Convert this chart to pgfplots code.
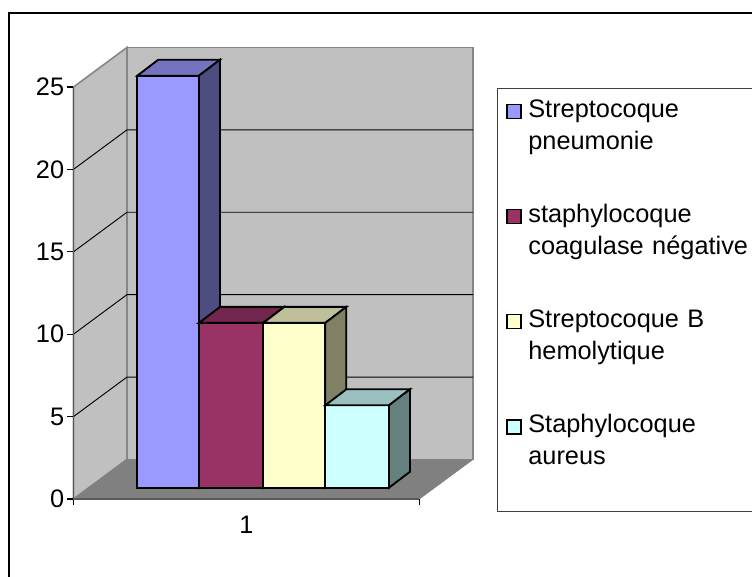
\documentclass[border=0pt]{standalone}
\usepackage{fontspec}
\setmainfont{Liberation Sans}
\usepackage{pgfplots}
\pgfplotsset{compat=1.18}

\definecolor{wall}{HTML}{C0C0C0}
\definecolor{floorc}{HTML}{808080}
\definecolor{edgec}{HTML}{868686}
\definecolor{blueF}{HTML}{9999FF}
\definecolor{blueT}{HTML}{7373BF}
\definecolor{blueS}{HTML}{4D4D80}
\definecolor{redF}{HTML}{993366}
\definecolor{redT}{HTML}{73264D}
\definecolor{redS}{HTML}{4D1A33}
\definecolor{yelF}{HTML}{FFFFCC}
\definecolor{yelT}{HTML}{BFBF99}
\definecolor{yelS}{HTML}{808066}
\definecolor{cyaF}{HTML}{CCFFFF}
\definecolor{cyaT}{HTML}{99BFBF}
\definecolor{cyaS}{HTML}{668080}

\begin{document}
\begin{tikzpicture}[x=1pt,y=1pt]
% page = 752x577 px at 0.75pt/px, axis origin at px (73.5,499)
\path[use as bounding box] (-55.125pt,-58.5pt) rectangle ++(564pt,432.75pt);
\begin{axis}[
    scale only axis,
    width=259.35pt,
    height=309pt,
    xmin=0, xmax=345.8,
    ymin=0, ymax=25,
    clip=false,
    axis on top,
    axis x line=bottom,
    axis y line=left,
    axis line style={-, black!65, line width=0.8pt},
    tick style={black, line width=0.8pt},
    tick align=outside,
    major tick length=4.5pt,
    xtick={0,345.8},
    xticklabels={1},
    x tick label as interval=true,
    ytick={0,5,10,15,20,25},
    every tick label/.append style={font=\fontsize{19}{24}\selectfont},
    /pgf/number format/assume math mode=true,
    xticklabel style={yshift=-5pt},
    yticklabel style={xshift=1pt},
    legend style={
        at={(axis cs:423.5,24.96)},
        anchor=north west,
        draw=black!75,
        line width=0.8pt,
        fill=white,
        inner xsep=6.5pt,
        inner ysep=6.5pt,
        row sep=11.05pt,
        column sep=3pt,
        font=\fontsize{19}{24}\selectfont,
        nodes={text width=250pt, align=left, text depth=50.25pt},
    },
    legend cell align=left,
    legend image code/.code={
        \draw[#1,line width=1.1pt] (0pt,17.5pt) rectangle (10.5pt,28pt);
    },
]
% chart frame
\addplot[forget plot, black, line width=1.5pt] coordinates {(-64,-6) (-64,29.46) (690,29.46)};
% walls and floor
\addplot[forget plot, fill=wall, draw=edgec, line width=1.2pt] coordinates {(0,0) (53.5,2.4) (53.5,27.4) (0,25)} --cycle;
\addplot[forget plot, fill=wall, draw=edgec, line width=1.2pt] coordinates {(53.5,2.4) (399.5,2.4) (399.5,27.4) (53.5,27.4)} --cycle;
% grid lines
\addplot[forget plot, black, line width=0.7pt] coordinates {(0,5) (53.5,7.4) (399.5,7.4)};
\addplot[forget plot, black, line width=0.7pt] coordinates {(0,10) (53.5,12.4) (399.5,12.4)};
\addplot[forget plot, black, line width=0.7pt] coordinates {(0,15) (53.5,17.4) (399.5,17.4)};
\addplot[forget plot, black, line width=0.7pt] coordinates {(0,20) (53.5,22.4) (399.5,22.4)};
\addplot[forget plot, fill=floorc, draw=floorc, line width=0.5pt] coordinates {(0,0) (53.5,2.4) (399.5,2.4) (345.8,0)} --cycle;
% bar 1, value 25
\addplot[fill=blueF, draw=black, line width=1.4pt] coordinates {(63.8,0.686) (125.5,0.686) (125.5,25.686) (63.8,25.686)} --cycle;
\addlegendentry{Streptocoque\\pneumonie}
\addplot[forget plot, fill=blueT, draw=black, line width=1.4pt] coordinates {(63.8,25.686) (125.5,25.686) (146.5,26.656) (84.8,26.656)} --cycle;
\addplot[forget plot, fill=blueS, draw=black, line width=1.4pt] coordinates {(125.5,0.686) (146.5,1.656) (146.5,26.656) (125.5,25.686)} --cycle;
% bar 2, value 10
\addplot[fill=redF, draw=black, line width=1.4pt] coordinates {(125.5,0.686) (189.8,0.686) (189.8,10.686) (125.5,10.686)} --cycle;
\addlegendentry{staphylocoque\\coagulase négative}
\addplot[forget plot, fill=redT, draw=black, line width=1.4pt] coordinates {(125.5,10.686) (189.8,10.686) (210.8,11.656) (146.5,11.656)} --cycle;
\addplot[forget plot, fill=redS, draw=black, line width=1.4pt] coordinates {(189.8,0.686) (210.8,1.656) (210.8,11.656) (189.8,10.686)} --cycle;
% bar 3, value 10
\addplot[fill=yelF, draw=black, line width=1.4pt] coordinates {(189.8,0.686) (251.8,0.686) (251.8,10.686) (189.8,10.686)} --cycle;
\addlegendentry{Streptocoque B\\hemolytique}
\addplot[forget plot, fill=yelT, draw=black, line width=1.4pt] coordinates {(189.8,10.686) (251.8,10.686) (272.8,11.656) (210.8,11.656)} --cycle;
\addplot[forget plot, fill=yelS, draw=black, line width=1.4pt] coordinates {(251.8,0.686) (272.8,1.656) (272.8,11.656) (251.8,10.686)} --cycle;
% bar 4, value 5
\addplot[fill=cyaF, draw=black, line width=1.4pt] coordinates {(251.8,0.686) (315.5,0.686) (315.5,5.686) (251.8,5.686)} --cycle;
\addlegendentry{Staphylocoque\\aureus}
\addplot[forget plot, fill=cyaT, draw=black, line width=1.4pt] coordinates {(251.8,5.686) (315.5,5.686) (336.5,6.656) (272.8,6.656)} --cycle;
\addplot[forget plot, fill=cyaS, draw=black, line width=1.4pt] coordinates {(315.5,0.686) (336.5,1.656) (336.5,6.656) (315.5,5.686)} --cycle;
\end{axis}
\end{tikzpicture}
\end{document}
